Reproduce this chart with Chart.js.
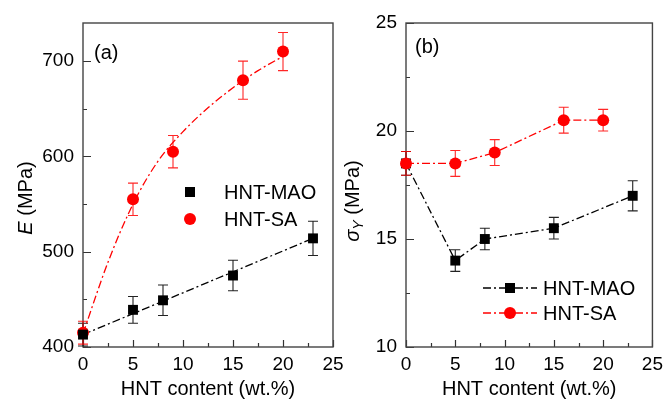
<!DOCTYPE html>
<html><head><meta charset="utf-8">
<script src="https://cdn.jsdelivr.net/npm/chart.js@4.4.1/dist/chart.umd.min.js"></script>
<style>
html,body{margin:0;padding:0;background:#fff;}
#wrap{position:relative;width:669px;height:401px;overflow:hidden;}
canvas{position:absolute;left:0;top:0;}
</style></head><body>
<div id="wrap"><canvas id="ca" width="669" height="401"></canvas><canvas id="cb" width="669" height="401"></canvas></div>
<script>
// ---------- data ----------
const seriesNames = ['HNT-MAO', 'HNT-SA'];
const xTickVals = [0, 5, 10, 15, 20, 25];
const xMinorVals = [2.5, 7.5, 12.5, 17.5, 22.5];

// panel (a): Young's modulus E (MPa)
const aMaoX = [0, 5, 8, 15, 23];
const aMaoY = [413, 439, 449, 475, 514];
const aMaoErr = [12, 14, 16, 16, 18];
const aSaX = [0, 5, 9, 16, 20];
const aSaY = [415, 555, 605, 680, 710];
const aSaErr = [12, 17, 17, 20, 20];
const aMaoFitX = [0, 23];
const aMaoFitY = [413, 514];
const aSaFitX = [0, 2.5, 5, 7.5, 10, 12.5, 15, 17.5, 20];
const aSaFitY = [414, 489, 550, 595, 626, 651, 672, 690, 705];
const aYTickVals = [400, 500, 600, 700];
const aYMinorVals = [450, 550, 650];

// panel (b): yield stress sigma_Y (MPa)
const bMaoX = [0, 5, 8, 15, 23];
const bMaoY = [18.5, 14, 15, 15.5, 17];
const bMaoErr = [0.55, 0.5, 0.5, 0.5, 0.7];
const bSaX = [0, 5, 9, 16, 20];
const bSaY = [18.5, 18.5, 19, 20.5, 20.5];
const bSaErr = [0.55, 0.6, 0.6, 0.6, 0.5];
const bYTickVals = [10, 15, 20, 25];
const bYMinorVals = [12.5, 17.5, 22.5];

// ---------- helpers ----------
const FAM = '"Liberation Sans", Arial, sans-serif';
const RED = '#ff0000', BLK = '#000000';
const DASH = [8, 3, 2, 3];
const pts = (xs, ys) => xs.map((x, i) => ({x: x, y: ys[i]}));

function drawMarker(ctx, style, x, y, color) {
  ctx.save();
  ctx.fillStyle = color;
  ctx.beginPath();
  if (style === 'rect') { ctx.rect(x - 5, y - 5, 10, 10); }
  else { ctx.arc(x, y, 6, 0, Math.PI * 2); }
  ctx.fill();
  ctx.restore();
}

function decorPlugin(o) {
  return {
    id: 'decor',
    beforeDatasetsDraw(chart) {
      const ctx = chart.ctx, xs = chart.scales.x, ys = chart.scales.y, ca = chart.chartArea;
      ctx.save();
      // ticks (inward)
      ctx.strokeStyle = '#333'; ctx.lineWidth = 1.2;
      ctx.beginPath();
      o.xMajor.forEach(v => { const p = Math.round(xs.getPixelForValue(v)) + 0.5; ctx.moveTo(p, ca.bottom); ctx.lineTo(p, ca.bottom - 7); });
      o.xMinor.forEach(v => { const p = Math.round(xs.getPixelForValue(v)) + 0.5; ctx.moveTo(p, ca.bottom); ctx.lineTo(p, ca.bottom - 4); });
      o.yMajor.forEach(v => { const p = Math.round(ys.getPixelForValue(v)) + 0.5; ctx.moveTo(ca.left, p); ctx.lineTo(ca.left + 8, p); });
      o.yMinor.forEach(v => { const p = Math.round(ys.getPixelForValue(v)) + 0.5; ctx.moveTo(ca.left, p); ctx.lineTo(ca.left + 4, p); });
      ctx.stroke();
      // frame
      ctx.strokeStyle = '#444'; ctx.lineWidth = 1.4;
      ctx.strokeRect(ca.left, ca.top, ca.right - ca.left, ca.bottom - ca.top);
      // error bars
      chart.data.datasets.forEach(ds => {
        if (!ds.errors) return;
        ctx.strokeStyle = ds.errColor; ctx.lineWidth = 1.1;
        ds.data.forEach((p, i) => {
          const e = ds.errors[i];
          const px = xs.getPixelForValue(p.x);
          const y1 = ys.getPixelForValue(p.y + e), y2 = ys.getPixelForValue(p.y - e);
          ctx.beginPath();
          ctx.moveTo(px, y1); ctx.lineTo(px, y2);
          ctx.moveTo(px - 5, y1); ctx.lineTo(px + 5, y1);
          ctx.moveTo(px - 5, y2); ctx.lineTo(px + 5, y2);
          ctx.stroke();
        });
      });
      ctx.restore();
    },
    afterDraw(chart) {
      const ctx = chart.ctx;
      ctx.save();
      ctx.fillStyle = '#000';
      // panel label
      ctx.font = '20px ' + FAM; ctx.textBaseline = 'middle'; ctx.textAlign = 'left';
      ctx.fillText(o.label, o.labelX, o.labelY);
      // y title with mixed styles
      ctx.save();
      ctx.translate(o.ytX, o.ytY); ctx.rotate(-Math.PI / 2);
      ctx.textBaseline = 'alphabetic';
      let total = 0;
      o.ytParts.forEach(p => { ctx.font = p.font; total += ctx.measureText(p.t).width; });
      let cur = -total / 2;
      o.ytParts.forEach(p => { ctx.font = p.font; ctx.fillText(p.t, cur, 7 + (p.dy || 0)); cur += ctx.measureText(p.t).width; });
      ctx.restore();
      // legend
      ctx.font = '20px ' + FAM; ctx.textBaseline = 'middle'; ctx.textAlign = 'left';
      o.legend.forEach((it, i) => {
        const y = o.legY + i * o.legDy;
        if (o.legLine) {
          ctx.save(); ctx.strokeStyle = it.color; ctx.lineWidth = 1.3; ctx.setLineDash(DASH);
          ctx.beginPath(); ctx.moveTo(o.legX - 27, y); ctx.lineTo(o.legX + 27, y); ctx.stroke(); ctx.restore();
        }
        drawMarker(ctx, it.style, o.legX, y, it.color);
        ctx.fillStyle = '#000';
        ctx.fillText(it.name, o.legTextX, y + 1);
      });
      ctx.restore();
    }
  };
}

function axes(yMin, yMax, yTicks, pad) {
  return {
    x: {
      type: 'linear', min: 0, max: 25, offset: false,
      afterBuildTicks: s => { s.ticks = xTickVals.map(v => ({value: v})); },
      grid: {display: false, drawTicks: false}, border: {display: false},
      ticks: {padding: 6, color: '#000', font: {size: 19, family: FAM}},
      title: {display: true, text: 'HNT content (wt.%)', color: '#000', font: {size: 20, family: FAM}, padding: {top: 0, bottom: 0}},
      afterFit: s => { s.height = 54; }
    },
    y: {
      type: 'linear', min: yMin, max: yMax,
      afterBuildTicks: s => { s.ticks = yTicks.map(v => ({value: v})); },
      grid: {display: false, drawTicks: false}, border: {display: false},
      ticks: {padding: 9, color: '#000', font: {size: 19, family: FAM}},
      afterFit: s => { s.width = 83; }
    }
  };
}

function ptDs(label, xs, ys, errs, style, color, showLine, order) {
  return {
    label: label, data: pts(xs, ys), errors: errs, errColor: color === RED ? 'rgba(255,0,0,0.85)' : '#222',
    showLine: showLine, borderColor: color, backgroundColor: color, borderWidth: 1.3, borderDash: DASH,
    pointStyle: style, pointRadius: style === 'rect' ? 7 : 6, pointBorderWidth: 0,
    pointBackgroundColor: color, pointBorderColor: color, tension: 0, clip: false, order: order
  };
}
function fitDs(xs, ys, color, order) {
  return {
    data: pts(xs, ys), showLine: true, borderColor: color, borderWidth: 1.3, borderDash: DASH,
    pointRadius: 0, cubicInterpolationMode: 'monotone', clip: false, order: order
  };
}

const common = {
  responsive: false, animation: false, devicePixelRatio: 1,
  plugins: {legend: {display: false}, tooltip: {enabled: false}},
  events: []
};

// ---------- panel (a) ----------
new Chart(document.getElementById('ca'), {
  type: 'scatter',
  data: {datasets: [
    ptDs(seriesNames[0], aMaoX, aMaoY, aMaoErr, 'rect', BLK, false, 0),
    ptDs(seriesNames[1], aSaX, aSaY, aSaErr, 'circle', RED, false, 1),
    fitDs(aMaoFitX, aMaoFitY, BLK, 2),
    fitDs(aSaFitX, aSaFitY, RED, 3)
  ]},
  options: Object.assign({}, common, {
    layout: {padding: {left: 0, right: 336, top: 23, bottom: 0}},
    scales: axes(400, 740, aYTickVals)
  }),
  plugins: [decorPlugin({
    xMajor: xTickVals, xMinor: xMinorVals, yMajor: aYTickVals, yMinor: aYMinorVals,
    label: '(a)', labelX: 94, labelY: 53,
    ytX: 25, ytY: 198,
    ytParts: [{t: 'E', font: 'italic 20px ' + FAM}, {t: ' (MPa)', font: '20px ' + FAM}],
    legend: [{name: seriesNames[0], style: 'rect', color: BLK}, {name: seriesNames[1], style: 'circle', color: RED}],
    legLine: false, legX: 190, legTextX: 224, legY: 192, legDy: 27
  })]
});

// ---------- panel (b) ----------
new Chart(document.getElementById('cb'), {
  type: 'scatter',
  data: {datasets: [
    ptDs(seriesNames[0], bMaoX, bMaoY, bMaoErr, 'rect', BLK, true, 1),
    ptDs(seriesNames[1], bSaX, bSaY, bSaErr, 'circle', RED, true, 0)
  ]},
  options: Object.assign({}, common, {
    layout: {padding: {left: 323, right: 13, top: 23, bottom: 0}},
    scales: axes(10, 25, bYTickVals)
  }),
  plugins: [decorPlugin({
    xMajor: xTickVals, xMinor: xMinorVals, yMajor: bYTickVals, yMinor: bYMinorVals,
    label: '(b)', labelX: 415, labelY: 47,
    ytX: 352, ytY: 201,
    ytParts: [{t: '\u03C3', font: 'italic 20px ' + FAM}, {t: 'Y', font: 'italic 14px ' + FAM, dy: 4}, {t: ' (MPa)', font: '20px ' + FAM}],
    legend: [{name: seriesNames[0], style: 'rect', color: BLK}, {name: seriesNames[1], style: 'circle', color: RED}],
    legLine: true, legX: 510, legTextX: 543, legY: 288, legDy: 25
  })]
});
</script>
</body></html>
